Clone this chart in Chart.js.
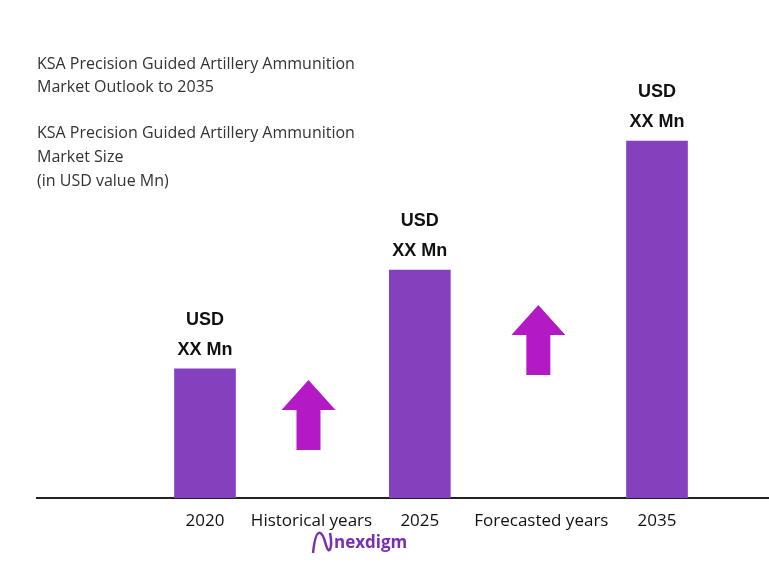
<!DOCTYPE html>
<html lang="en">
<head>
<meta charset="UTF-8">
<title>KSA Precision Guided Artillery Ammunition</title>
<script src="https://cdn.jsdelivr.net/npm/chart.js"></script>
<style>
  body { margin: 0; background: #fff; }
  #wrap { width: 769px; height: 580px; }
</style>
</head>
<body>
<div id="wrap"><canvas id="chart" width="769" height="580"></canvas></div>
<script>
// data
const years = ['2020', '2025', '2035'];
const yearPos = [22.95, 52.3, 84.7];
const values = [27.7, 48.9, 76.6];
const valueLabels = ['XX Mn', 'XX Mn', 'XX Mn'];
const periodLabels = ['Historical years', 'Forecasted years'];
const periodPos = [37.5, 68.9];
const arrowTops = [25.3, 41.4];
const titleLines = [
  'KSA Precision Guided Artillery Ammunition',
  'Market Outlook to 2035',
  '',
  'KSA Precision Guided Artillery Ammunition',
  'Market Size',
  '(in USD value Mn)'
];

const barColor = '#8540bd';
const arrowColor = '#b31ac6';

const decor = {
  id: 'decor',
  afterDatasetsDraw(chart) {
    const ctx = chart.ctx;
    const xs = chart.scales.x, ys = chart.scales.y;
    ctx.save();
    // titles
    ctx.fillStyle = '#333';
    ctx.font = '16px "Open Sans", sans-serif';
    ctx.textBaseline = 'middle';
    ctx.textAlign = 'left';
    const ty = [64, 87, 110, 133, 157, 181];
    titleLines.forEach((t, i) => ctx.fillText(t, 37, ty[i]));

    // value labels
    const meta = chart.getDatasetMeta(0);
    ctx.fillStyle = '#111';
    ctx.font = 'bold 18px "Liberation Sans", Arial, sans-serif';
    ctx.textAlign = 'center';
    meta.data.forEach((bar, i) => {
      ctx.fillText('USD', bar.x, bar.y - 49);
      ctx.fillText(valueLabels[i], bar.x, bar.y - 19);
    });

    // x labels
    ctx.fillStyle = '#111';
    ctx.font = '17px "Open Sans", sans-serif';
    const ly = ys.bottom + 23;
    years.forEach((y, i) => ctx.fillText(y, xs.getPixelForValue(yearPos[i]), ly));
    periodLabels.forEach((p, i) => ctx.fillText(p, xs.getPixelForValue(periodPos[i]), ly));

    // arrows
    ctx.fillStyle = arrowColor;
    periodPos.forEach((p, i) => {
      const cx = xs.getPixelForValue(p) - 3;
      const top = ys.getPixelForValue(arrowTops[i]);
      const h = 70, hw = 27, sw = 12, head = 30;
      ctx.beginPath();
      ctx.moveTo(cx, top);
      ctx.lineTo(cx + hw, top + head);
      ctx.lineTo(cx + sw, top + head);
      ctx.lineTo(cx + sw, top + h);
      ctx.lineTo(cx - sw, top + h);
      ctx.lineTo(cx - sw, top + head);
      ctx.lineTo(cx - hw, top + head);
      ctx.closePath();
      ctx.fill();
    });

    // logo
    ctx.fillStyle = '#7a2fb0';
    ctx.font = 'bold 17px "Open Sans", sans-serif';
    ctx.textAlign = 'left';
    ctx.fillText('nexdigm', 334, 543);
    ctx.strokeStyle = '#7a2fb0';
    ctx.lineWidth = 2.5;
    ctx.beginPath();
    ctx.moveTo(313, 553);
    ctx.bezierCurveTo(316, 525, 322, 530, 326, 545);
    ctx.bezierCurveTo(329, 556, 333, 548, 330, 533);
    ctx.stroke();
    ctx.restore();
  }
};

new Chart(document.getElementById('chart'), {
  type: 'bar',
  data: {
    datasets: [{
      data: years.map((y, i) => ({ x: yearPos[i], y: values[i] })),
      backgroundColor: barColor,
      barThickness: 61
    }]
  },
  options: {
    responsive: false,
    animation: false,
    layout: { padding: { left: 37, right: 0, top: 32, bottom: 74 } },
    plugins: { legend: { display: false }, tooltip: { enabled: false } },
    scales: {
      x: {
        type: 'linear', min: 0, max: 100, offset: false,
        grid: { display: false },
        ticks: { display: false },
        border: { color: '#222', width: 2 }
      },
      y: { min: 0, max: 100, display: false }
    }
  },
  plugins: [decor]
});
</script>
</body>
</html>
